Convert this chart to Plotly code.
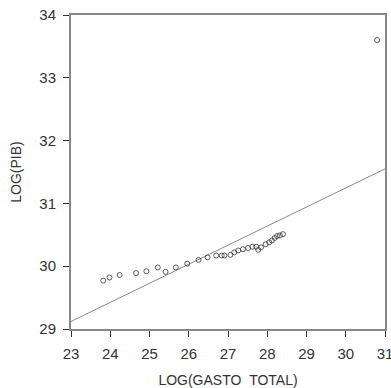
import plotly.graph_objects as go

log_gasto = [23.82, 23.98, 24.24, 24.66, 24.92, 25.21, 25.41, 25.67, 25.96, 26.25,
             26.48, 26.70, 26.84, 26.91, 27.06, 27.16, 27.26, 27.38, 27.51, 27.62,
             27.72, 27.77, 27.84, 27.96, 28.05, 28.12, 28.19, 28.25, 28.32, 28.40,
             30.80]
log_pib = [29.77, 29.82, 29.86, 29.89, 29.92, 29.98, 29.91, 29.98, 30.04, 30.10,
           30.14, 30.17, 30.17, 30.17, 30.18, 30.22, 30.25, 30.27, 30.29, 30.31,
           30.31, 30.26, 30.30, 30.35, 30.38, 30.41, 30.45, 30.48, 30.49, 30.51,
           33.60]

# Fitted line endpoints
fit_x = [23.0, 31.0]
fit_y = [29.12, 31.55]

x_ticks = [23, 24, 25, 26, 27, 28, 29, 30, 31]
y_ticks = [29, 30, 31, 32, 33, 34]

FONT = "Liberation Sans, Arial"

fig = go.Figure()
fig.add_trace(go.Scatter(x=fit_x, y=fit_y, mode="lines",
                         line=dict(color="#8a8a8a", width=1), hoverinfo="skip"))
fig.add_trace(go.Scatter(x=log_gasto, y=log_pib, mode="markers",
                         marker=dict(symbol="circle-open", size=5,
                                     color="#333333", line=dict(width=0.8, color="#333333"))))

axis_common = dict(showgrid=False, zeroline=False, showline=True, mirror=True,
                   linecolor="#888888", linewidth=2, ticks="outside", ticklen=6,
                   tickcolor="#333333", tickwidth=1, ticklabeloverflow="allow",
                   automargin=False,
                   tickfont=dict(family=FONT, size=15, color="#333333"))

fig.update_layout(
    width=391, height=388,
    margin=dict(l=71, r=6, t=15, b=59),
    paper_bgcolor="white", plot_bgcolor="white",
    showlegend=False,
    xaxis=dict(range=[23, 31], tickvals=x_ticks, ticktext=[str(v) for v in x_ticks],
               ticklabelstandoff=4,
               title=dict(text="LOG(GASTO\u00a0\u00a0TOTAL)", standoff=21,
                          font=dict(family=FONT, size=14, color="#333333")),
               **axis_common),
    yaxis=dict(range=[29, 34], tickvals=y_ticks, ticktext=[str(v) for v in y_ticks],
               ticklabelstandoff=4,
               title=dict(text="LOG(PIB)", standoff=14,
                          font=dict(family=FONT, size=14, color="#333333")),
               **axis_common),
)

fig.write_html("out.html")
